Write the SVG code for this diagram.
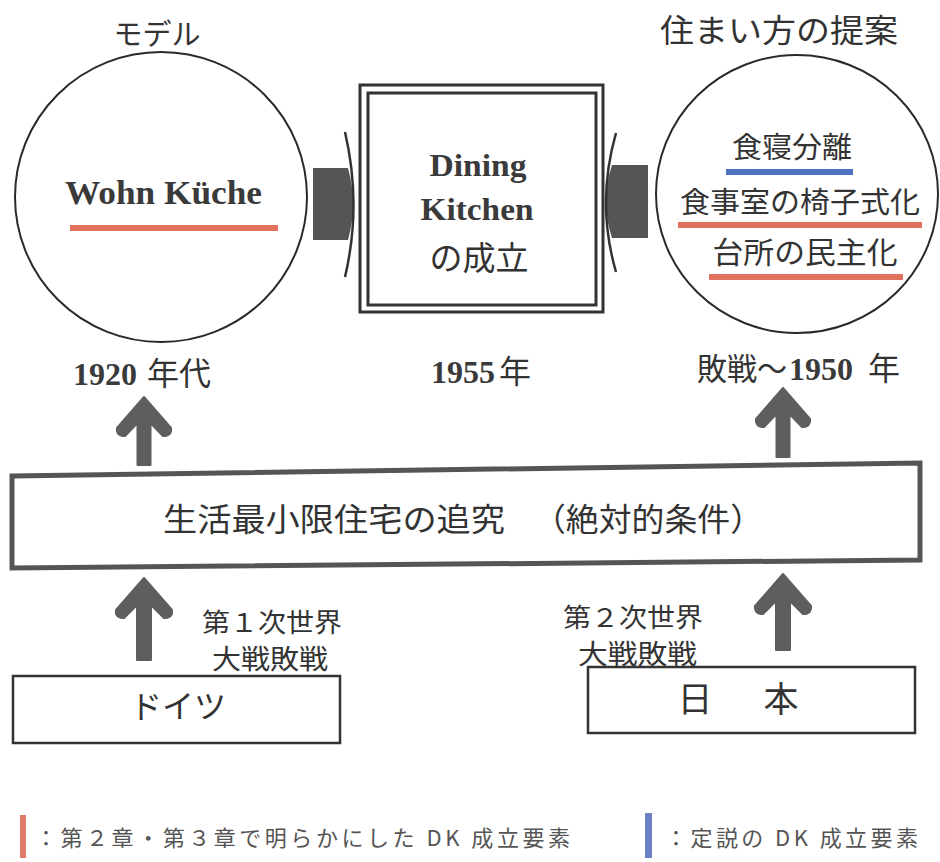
<svg xmlns="http://www.w3.org/2000/svg" width="940" height="862" viewBox="0 0 940 862">
<style>
.jp{font-family:"Noto Sans CJK JP","Noto Sans",sans-serif;fill:#333}
.sb{font-family:"Liberation Serif",serif;font-weight:bold;fill:#3a3a3a}
.ln{fill:none;stroke:#2a2a2a;stroke-width:2}
.arr{fill:#5e5e5e;stroke:#5e5e5e;stroke-width:2;stroke-linejoin:round}
.blk{fill:#555}
.red{stroke:#e0725e;stroke-width:6}
.blue{stroke:#4f72c0;stroke-width:6}
.leg{font-family:"Noto Sans CJK JP","Noto Sans",sans-serif;fill:#555;font-size:22px}
</style>
<rect width="940" height="862" fill="#fff"/>

<g id="model">
  <text class="jp" x="157" y="45" font-size="29" text-anchor="middle">モデル</text>
  <ellipse class="ln" cx="161" cy="197" rx="146" ry="145"/>
  <text class="sb" x="65" y="204" font-size="33" textLength="197" lengthAdjust="spacingAndGlyphs">Wohn Küche</text>
  <line class="red" x1="70" y1="228" x2="278" y2="228"/>
  <text x="73" y="385" font-size="32"><tspan class="sb">1920</tspan><tspan class="jp" x="147">年代</tspan></text>
</g>

<g id="dk">
  <rect x="360" y="85" width="243" height="227" fill="none" stroke="#333" stroke-width="3"/>
  <rect x="368" y="93" width="228" height="212" fill="none" stroke="#333" stroke-width="3"/>
  <text class="sb" x="478" y="176" font-size="31" text-anchor="middle" textLength="97" lengthAdjust="spacingAndGlyphs">Dining</text>
  <text class="sb" x="477" y="220" font-size="31" text-anchor="middle" textLength="113" lengthAdjust="spacingAndGlyphs">Kitchen</text>
  <text class="jp" x="479" y="270" font-size="33" text-anchor="middle">の成立</text>
  <text x="431" y="383" font-size="32"><tspan class="sb">1955</tspan><tspan class="jp" x="499">年</tspan></text>
</g>

<g id="proposal">
  <text class="jp" x="779" y="42" font-size="32" text-anchor="middle" textLength="238" lengthAdjust="spacingAndGlyphs">住まい方の提案</text>
  <ellipse class="ln" cx="797" cy="194" rx="141" ry="139"/>
  <text class="jp" x="792" y="158" font-size="29" text-anchor="middle" textLength="120" lengthAdjust="spacingAndGlyphs">食寝分離</text>
  <line class="blue" x1="726" y1="172" x2="853" y2="172"/>
  <text class="jp" x="800" y="213" font-size="29" text-anchor="middle" textLength="240" lengthAdjust="spacingAndGlyphs">食事室の椅子式化</text>
  <line class="red" x1="678" y1="225" x2="922" y2="225"/>
  <text class="jp" x="805" y="263" font-size="30" text-anchor="middle" textLength="185" lengthAdjust="spacingAndGlyphs">台所の民主化</text>
  <line class="red" x1="709" y1="277" x2="903" y2="277"/>
  <text class="jp" x="697" y="380" font-size="31" textLength="60" lengthAdjust="spacingAndGlyphs">敗戦</text>
  <text class="jp" x="757" y="380" font-size="31" textLength="30" lengthAdjust="spacingAndGlyphs">〜</text>
  <text class="sb" x="789" y="380" font-size="32">1950</text>
  <text class="jp" x="868" y="380" font-size="32">年</text>
</g>

<g id="pursuit">
  <path d="M12,476 L920,463 L920,560 L12,568 Z" fill="none" stroke="#555" stroke-width="5"/>
  <text class="jp" x="163" y="531" font-size="32" textLength="342" lengthAdjust="spacingAndGlyphs">生活最小限住宅の追究</text>
  <text class="jp" x="533" y="531" font-size="32" textLength="230" lengthAdjust="spacingAndGlyphs">（絶対的条件）</text>
</g>

<g id="germany">
  <rect x="13" y="676" width="327" height="67" fill="none" stroke="#333" stroke-width="2.5"/>
  <text class="jp" x="178" y="718" font-size="32" text-anchor="middle">ドイツ</text>
  <text class="jp" x="202" y="632" font-size="26" textLength="140" lengthAdjust="spacingAndGlyphs">第１次世界</text>
  <text class="jp" x="212" y="669" font-size="27" textLength="116" lengthAdjust="spacingAndGlyphs">大戦敗戦</text>
</g>

<g id="japan">
  <rect x="588" y="667" width="327" height="66" fill="none" stroke="#333" stroke-width="2.5"/>
  <text class="jp" x="695" y="712" font-size="35" text-anchor="middle">日</text>
  <text class="jp" x="781" y="712" font-size="35" text-anchor="middle">本</text>
  <text class="jp" x="563" y="627" font-size="26" textLength="140" lengthAdjust="spacingAndGlyphs">第２次世界</text>
  <text class="jp" x="578" y="664" font-size="27" textLength="119" lengthAdjust="spacingAndGlyphs">大戦敗戦</text>
</g>

<g id="connectors">
  <path class="blk" d="M313,168 L348,168 Q358,204 348,240 L313,240 Z"/>
  <path d="M345,132 Q362,205 345,277" fill="none" stroke="#333" stroke-width="2.5"/>
  <path class="blk" d="M648,165 L612,165 Q600,201 612,238 L648,238 Z"/>
  <path d="M616,133 Q596,203 616,272" fill="none" stroke="#333" stroke-width="2.5"/>
  <path class="arr" transform="translate(144,397)" d="M0,0 L-27,31 Q-28,39 -19,39 L-6.5,26 L-6.5,68 L6.5,68 L6.5,26 L19,39 Q28,39 27,31 Z"/>
  <path class="arr" transform="translate(783,388)" d="M0,0 L-27,31 Q-28,39 -19,39 L-6.5,26 L-6.5,69 L6.5,69 L6.5,26 L19,39 Q28,39 27,31 Z"/>
  <path class="arr" transform="translate(144,578)" d="M0,0 L-28,32 Q-29,40 -20,40 L-7,27 L-7,82 L7,82 L7,27 L20,40 Q29,40 28,32 Z"/>
  <path class="arr" transform="translate(783,574)" d="M0,0 L-28,32 Q-29,40 -20,40 L-7,27 L-7,76 L7,76 L7,27 L20,40 Q29,40 28,32 Z"/>
</g>

<g id="legend">
  <rect x="20" y="815" width="6" height="43" fill="#e07a6a"/>
  <text class="leg" x="35" y="846" textLength="535" lengthAdjust="spacing">：第２章・第３章で明らかにした DK 成立要素</text>
  <rect x="645" y="813" width="7" height="45" fill="#6a80c0"/>
  <text class="leg" x="665" y="846" textLength="253" lengthAdjust="spacing">：定説の DK 成立要素</text>
</g>
</svg>
